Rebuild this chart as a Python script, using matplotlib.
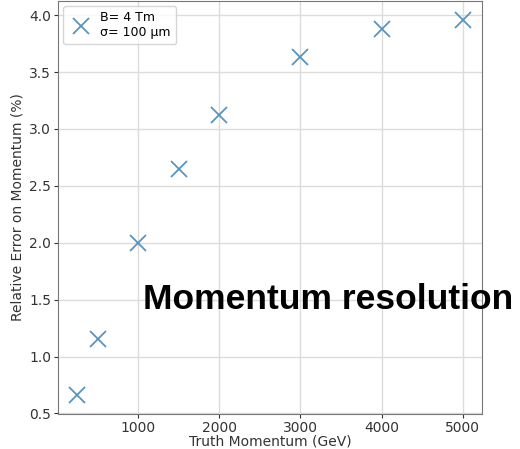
import matplotlib
matplotlib.use('Agg')
import matplotlib.pyplot as plt

momentum = [250, 500, 1000, 1500, 2000, 3000, 4000, 5000]
rel_error = [0.66, 1.15, 2.00, 2.65, 3.12, 3.63, 3.88, 3.96]
label = 'B= 4 Tm\nσ= 100 μm'

plt.rcParams['font.family'] = ['DejaVu Sans']

fig = plt.figure(figsize=(5.2, 4.49), dpi=100)
ax = fig.add_axes([58/520, 35/449, 424/520, 413/449])

ax.plot(momentum, rel_error, 'x', color='#5a93bd', markersize=12,
        markeredgewidth=1.3, label=label)
ax.grid(True, color='#dcdcdc', linewidth=1)
ax.set_axisbelow(True)
ax.set_xlabel('Truth Momentum (GeV)', fontsize=10, labelpad=0, color='#333333')
ax.set_ylabel('Relative Error on Momentum (%)', fontsize=10, labelpad=3,
              color='#333333')
ax.tick_params(labelsize=10, colors='#333333', length=3, pad=2)
ax.set_xticks([1000, 2000, 3000, 4000, 5000])
for s in ax.spines.values():
    s.set_color('#777777')
ax.legend(loc='upper left', fontsize=9, handletextpad=0.6,
          borderaxespad=0.4)

fig.text(143/520, 1 - 309/449, 'Momentum resolution', fontsize=25.5,
         fontweight='bold', family='Liberation Sans', color='black',
         ha='left', va='baseline')

fig.savefig('out.png', dpi=100)
